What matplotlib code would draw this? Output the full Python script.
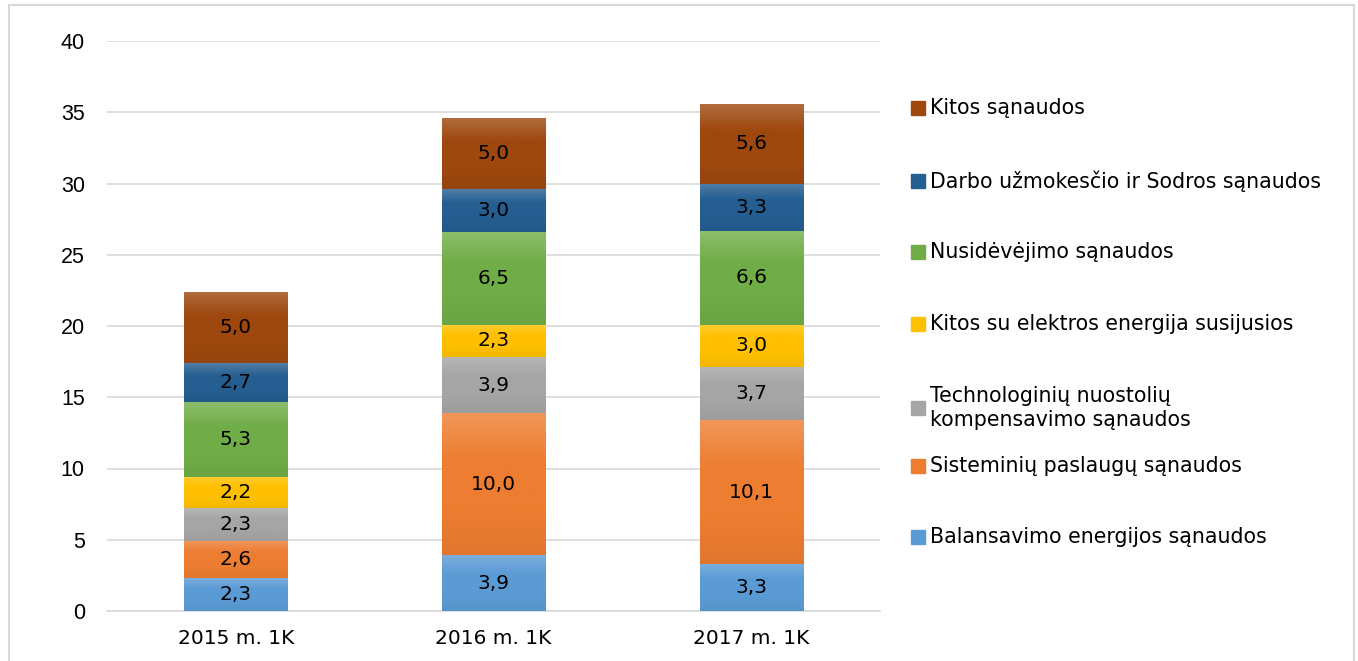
import numpy as np
import matplotlib.pyplot as plt
from matplotlib.colors import LinearSegmentedColormap, to_rgb
from matplotlib.patches import Rectangle

PERIODS = ["2015 m. 1K", "2016 m. 1K", "2017 m. 1K"]

# stacked from bottom to top
SERIES = [
    "Balansavimo energijos sąnaudos",
    "Sisteminių paslaugų sąnaudos",
    "Technologinių nuostolių\nkompensavimo sąnaudos",
    "Kitos su elektros energija susijusios",
    "Nusidėvėjimo sąnaudos",
    "Darbo užmokesčio ir Sodros sąnaudos",
    "Kitos sąnaudos",
]
balansavimo = [2.3, 3.9, 3.3]
sisteminiu = [2.6, 10.0, 10.1]
technologiniu = [2.3, 3.9, 3.7]
kitos_el = [2.2, 2.3, 3.0]
nusidevejimo = [5.3, 6.5, 6.6]
darbo = [2.7, 3.0, 3.3]
kitos = [5.0, 5.0, 5.6]
VALUES = [balansavimo, sisteminiu, technologiniu, kitos_el, nusidevejimo, darbo, kitos]

COLORS = ["#5B9BD5", "#ED7D31", "#A5A5A5", "#FFC000", "#70AD47", "#255E91", "#9E480E"]

W, H = 1358, 661
FONT = "DejaVu Sans"


def lighten(c, f):
    r = np.array(to_rgb(c))
    return tuple(r + (1 - r) * f)


def darken(c, f):
    r = np.array(to_rgb(c))
    return tuple(r * (1 - f))


def main() -> None:
    fig = plt.figure(figsize=(W / 100, H / 100), dpi=100)
    ax = fig.add_axes([107 / W, 50 / H, 773 / W, 570 / H])

    x = np.arange(len(PERIODS))
    width = 0.4
    bottom = np.zeros(len(PERIODS))
    grad = np.linspace(0, 1, 256).reshape(-1, 1)

    for vals, color in zip(VALUES, COLORS):
        vals = np.array(vals)
        bars = ax.bar(x, vals, width, bottom=bottom, color=color, zorder=2,
                      linewidth=0)
        cmap = LinearSegmentedColormap.from_list(
            "g", [darken(color, 0.05), color, color, lighten(color, 0.2)])
        for bar, v, b in zip(bars, vals, bottom):
            x0 = bar.get_x()
            im = ax.imshow(grad, extent=[x0, x0 + bar.get_width(), b, b + v],
                           origin="lower", cmap=cmap, aspect="auto", zorder=3)
            im.set_clip_path(bar)
            ax.text(bar.get_x() + bar.get_width() / 2, b + v / 2,
                    f"{v:.1f}".replace(".", ","), ha="center", va="center",
                    fontsize=14.5, family=FONT, color="black", zorder=4)
        bottom = bottom + vals

    ax.set_xlim(-0.5, 2.5)
    ax.set_ylim(0, 40)
    ax.set_yticks(range(0, 41, 5))
    ax.set_xticks(x)
    ax.set_xticklabels(PERIODS, family=FONT, fontsize=14.5)
    for lab in ax.get_yticklabels():
        lab.set_family("Liberation Sans")
        lab.set_fontsize(15.5)
    ax.tick_params(axis="x", length=0, pad=13)
    ax.tick_params(axis="y", length=0, pad=16)
    ax.grid(axis="y", color="#D9D9D9", linewidth=1.2, zorder=0)
    ax.set_axisbelow(True)
    for s in ["top", "right", "left"]:
        ax.spines[s].set_visible(False)
    ax.spines["bottom"].set_color("#D9D9D9")
    ax.spines["bottom"].set_linewidth(1.2)

    # legend, drawn top to bottom
    legend_y = [108, 181, 252, 324, 408, 466, 537]
    for label, color, yy in zip(SERIES[::-1], COLORS[::-1], legend_y):
        fig.patches.append(Rectangle((911 / W, 1 - (yy + 7) / H), 14 / W, 14 / H,
                                     transform=fig.transFigure, color=color))
        fig.text(930 / W, 1 - yy / H, label, ha="left", va="center",
                 fontsize=14.8, family=FONT, linespacing=1.2)

    fig.patches.append(Rectangle((9 / W, -0.1), (1354 - 9) / W, 1.1 - 5 / H,
                                 transform=fig.transFigure, fill=False,
                                 edgecolor="#D9D9D9", linewidth=1.5))

    fig.savefig("out.png", dpi=100)


if __name__ == "__main__":
    main()
